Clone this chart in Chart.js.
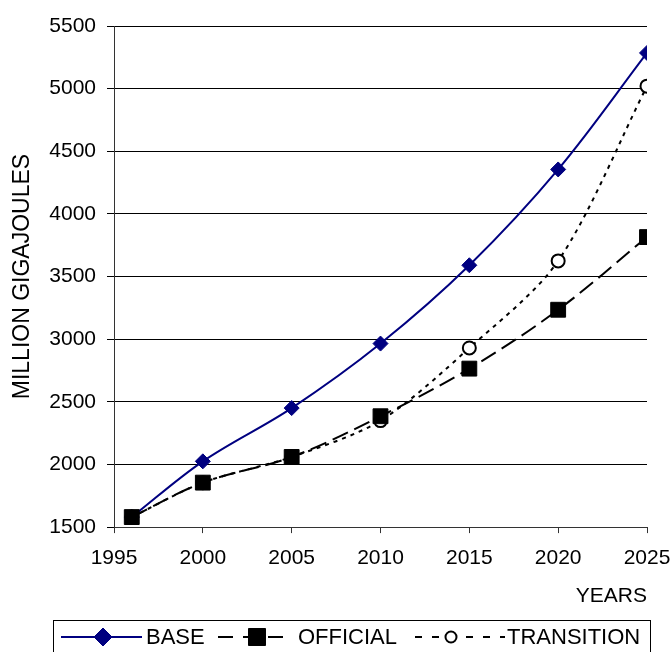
<!DOCTYPE html>
<html>
<head>
<meta charset="utf-8">
<script src="https://cdn.jsdelivr.net/npm/chart.js@4/dist/chart.umd.min.js"></script>
<style>
  html, body { margin: 0; padding: 0; background: #fff; }
  #wrap { width: 672px; height: 652px; position: relative; }
</style>
</head>
<body>
<div id="wrap"><canvas id="c" width="672" height="652"></canvas></div>
<script>
// Energy demand scenarios, million gigajoules
const years      = [1996, 2000, 2005, 2010, 2015, 2020, 2025];
const base       = [1580, 2025, 2450, 2965, 3590, 4355, 5285];
const official   = [1580, 1855, 2060, 2385, 2765, 3235, 3815];
const transition = [1580, 1855, 2060, 2350, 2930, 3625, 5020];
const seriesNames = ['BASE', 'OFFICIAL', 'TRANSITION'];
const xTicks = [1995, 2000, 2005, 2010, 2015, 2020, 2025];
const yTicks = [1500, 2000, 2500, 3000, 3500, 4000, 4500, 5000, 5500];

const FONT = "'Liberation Sans', Arial, sans-serif";
const NAVY = '#000080';

const pts = vals => years.map((y, i) => ({ x: y, y: vals[i] }));

// Legend drawn in a framed strip below the axes
const legendStrip = {
  id: 'legendStrip',
  afterDraw(chart) {
    const ctx = chart.ctx;
    const cy = 637;
    ctx.save();
    ctx.strokeStyle = '#000';
    ctx.lineWidth = 1;
    ctx.strokeRect(53.5, 620.5, 597, 40);

    const items = [
      { x0: 61,  x1: 142, mx: 103, tx: 146, dash: [],       r: 9 },
      { x0: 218, x1: 290, mx: 257, tx: 298, dash: [15, 10], r: 12 },
      { x0: 415, x1: 505, mx: 451, tx: 507, dash: [7, 10],  r: 5.5 }
    ];
    items.forEach((it, i) => {
      const ds = chart.data.datasets[i];
      ctx.save();
      ctx.strokeStyle = ds.borderColor;
      ctx.lineWidth = 2;
      ctx.setLineDash(it.dash);
      ctx.beginPath();
      ctx.moveTo(it.x0, cy);
      ctx.lineTo(it.x1, cy);
      ctx.stroke();
      ctx.restore();
      drawMarker(ctx, ds, it.mx, cy, it.r);
      ctx.fillStyle = '#000';
      ctx.font = '22px ' + FONT;
      ctx.textBaseline = 'middle';
      ctx.textAlign = 'left';
      ctx.fillText(ds.label, it.tx, cy + 1);
    });
    ctx.restore();
  }
};

function drawMarker(ctx, ds, x, y, r) {
  ctx.save();
  ctx.setLineDash([]);
  ctx.fillStyle = ds.pointBackgroundColor;
  ctx.strokeStyle = ds.pointBorderColor;
  ctx.lineWidth = ds.pointBorderWidth;
  ctx.beginPath();
  if (ds.pointStyle === 'rectRot') {
    ctx.moveTo(x, y - r); ctx.lineTo(x + r, y); ctx.lineTo(x, y + r); ctx.lineTo(x - r, y); ctx.closePath();
  } else if (ds.pointStyle === 'rect') {
    const s = Math.SQRT1_2 * r;
    ctx.rect(x - s, y - s, 2 * s, 2 * s);
  } else {
    ctx.arc(x, y, r, 0, Math.PI * 2);
  }
  ctx.fill();
  if (ds.pointBorderWidth) ctx.stroke();
  ctx.restore();
}

new Chart(document.getElementById('c'), {
  type: 'line',
  data: {
    datasets: [
      {
        label: seriesNames[0],
        data: pts(base),
        borderColor: NAVY,
        borderWidth: 2,
        tension: 0.35,
        pointStyle: 'rectRot',
        pointRadius: 7.5,
        pointBackgroundColor: NAVY,
        pointBorderColor: NAVY,
        pointBorderWidth: 1,
        order: 1
      },
      {
        label: seriesNames[1],
        data: pts(official),
        borderColor: '#000',
        borderWidth: 2,
        borderDash: [17, 7],
        tension: 0.35,
        pointStyle: 'rect',
        pointRadius: 10.5,
        pointBackgroundColor: '#000',
        pointBorderColor: '#000',
        pointBorderWidth: 1,
        order: 0
      },
      {
        label: seriesNames[2],
        data: pts(transition),
        borderColor: '#000',
        borderWidth: 2,
        borderDash: [4, 5],
        tension: 0.3,
        pointStyle: 'circle',
        pointRadius: 6.5,
        pointBackgroundColor: '#fff',
        pointBorderColor: '#000',
        pointBorderWidth: 2,
        order: 2
      }
    ]
  },
  options: {
    responsive: false,
    animation: false,
    events: [],
    layout: { padding: { left: 0, right: 25, top: 26, bottom: 43 } },
    plugins: {
      legend: { display: false },
      tooltip: { enabled: false }
    },
    scales: {
      x: {
        type: 'linear',
        min: 1995,
        max: 2025,
        afterBuildTicks: s => { s.ticks = xTicks.map(v => ({ value: v })); },
        afterFit: s => { s.paddingLeft = 0; s.paddingRight = 0; },
        ticks: {
          color: '#000',
          font: { family: FONT, size: 21, lineHeight: 0.7 },
          padding: 18,
          maxRotation: 0,
          callback: v => String(v)
        },
        grid: { drawOnChartArea: false, drawTicks: true, tickLength: 6, color: '#333' },
        border: { color: '#333', width: 1 },
        title: {
          display: true,
          text: 'YEARS',
          align: 'end',
          color: '#000',
          font: { family: FONT, size: 21 },
          padding: { top: 0, bottom: 0 }
        }
      },
      y: {
        min: 1500,
        max: 5500,
        afterBuildTicks: s => { s.ticks = yTicks.map(v => ({ value: v })); },
        afterFit: s => { s.width = 114; },
        ticks: {
          color: '#000',
          font: { family: FONT, size: 21 },
          padding: 11,
          callback: v => String(v)
        },
        grid: { color: '#000', lineWidth: 1, tickLength: 7 },
        border: { color: '#333', width: 1 },
        title: {
          display: true,
          text: 'MILLION GIGAJOULES',
          color: '#000',
          font: { family: FONT, size: 23 },
          padding: { top: 9, bottom: 0 }
        }
      }
    }
  },
  plugins: [legendStrip]
});
</script>
</body>
</html>
